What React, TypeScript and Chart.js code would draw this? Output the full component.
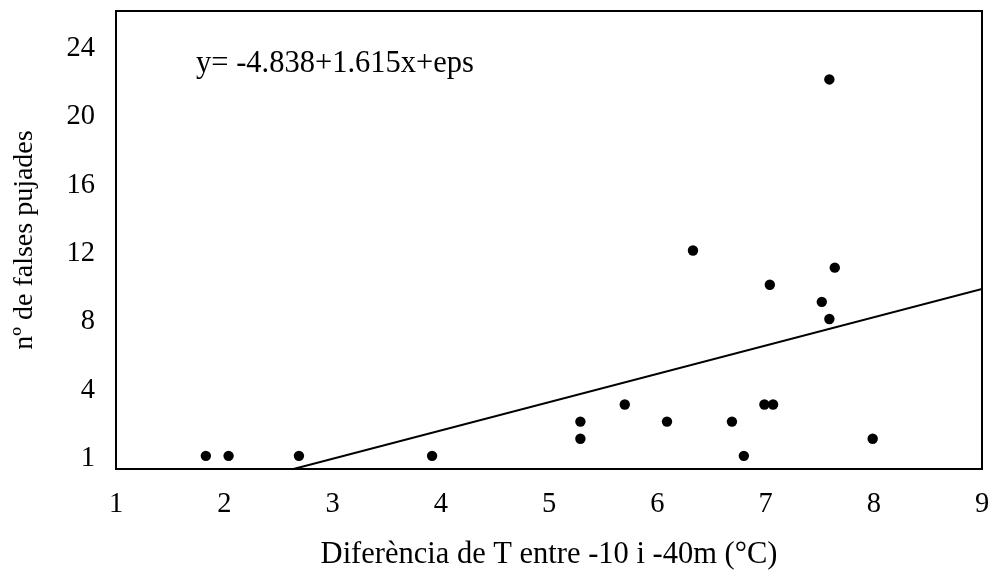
import React, { useEffect, useRef } from "react";
import { Chart, registerables } from "chart.js";

Chart.register(...registerables);

// Data
const xValues = [1.83, 2.04, 2.69, 3.92, 5.29, 5.29, 5.7, 6.09, 6.33, 6.69, 6.8, 6.99, 7.04, 7.07, 7.52, 7.59, 7.59, 7.64, 7.99];
const yValues = [0, 0, 0, 0, 1, 2, 3, 2, 12, 2, 0, 3, 10, 3, 9, 8, 22, 11, 1];

// Fitted line end points (as drawn)
const fitX = [2.64, 9];
const fitY = [-0.77, 9.76];

const yTickValues = [0, 4, 8, 12, 16, 20, 24];
const yTickLabels = ["1", "4", "8", "12", "16", "20", "24"];
const xTickValues = [1, 2, 3, 4, 5, 6, 7, 8, 9];

const equationText = "y= -4.838+1.615x+eps";
const equationAt = { x: 1.74, y: 22.43 };

const xTitle = "Diferència de T entre -10 i -40m (°C)";
const yTitle = "nº de falses pujades";

const FONT_FAMILY = '"Liberation Serif", "Times New Roman", Times, serif';

export default function App() {
  const canvasRef = useRef<HTMLCanvasElement | null>(null);

  useEffect(() => {
    if (!canvasRef.current) return;

    const framePlugin = {
      id: "frameAndText",
      afterDraw(chart: any) {
        const { ctx, chartArea, scales } = chart;
        ctx.save();
        ctx.strokeStyle = "#000";
        ctx.lineWidth = 2;
        ctx.strokeRect(chartArea.left, chartArea.top, chartArea.right - chartArea.left, chartArea.bottom - chartArea.top);
        ctx.fillStyle = "#000";
        ctx.font = `30.5px ${FONT_FAMILY}`;
        ctx.textAlign = "left";
        ctx.textBaseline = "alphabetic";
        ctx.fillText(
          equationText,
          scales.x.getPixelForValue(equationAt.x),
          scales.y.getPixelForValue(equationAt.y)
        );
        ctx.restore();
      },
    };

    const zeroPadding = (scale: any) => {
      scale.paddingTop = 0;
      scale.paddingBottom = 0;
      scale.paddingLeft = 0;
      scale.paddingRight = 0;
    };

    const chart = new Chart(canvasRef.current, {
      type: "scatter",
      data: {
        datasets: [
          {
            type: "scatter",
            data: xValues.map((x, i) => ({ x, y: yValues[i] })),
            backgroundColor: "#000",
            borderColor: "#000",
            pointRadius: 5.2,
            pointBorderWidth: 0,
          },
          {
            type: "line",
            data: fitX.map((x, i) => ({ x, y: fitY[i] })),
            borderColor: "#000",
            borderWidth: 2,
            pointRadius: 0,
            fill: false,
            tension: 0,
          } as any,
        ],
      },
      options: {
        responsive: false,
        animation: false,
        events: [],
        layout: { padding: { top: 11, right: 7, left: 0, bottom: 0 } },
        plugins: {
          legend: { display: false },
          tooltip: { enabled: false },
        },
        scales: {
          x: {
            type: "linear",
            min: 1,
            max: 9,
            grid: { display: false, drawTicks: false },
            border: { display: false },
            afterBuildTicks: (scale: any) => {
              scale.ticks = xTickValues.map((v) => ({ value: v }));
            },
            afterFit: (scale: any) => {
              scale.height = 101;
              zeroPadding(scale);
            },
            ticks: {
              color: "#000",
              padding: 18,
              maxRotation: 0,
              font: { family: FONT_FAMILY, size: 28.5 },
              callback: (v: any) => String(v),
            },
            title: {
              display: true,
              text: xTitle,
              color: "#000",
              padding: { top: 0, bottom: -3 },
              font: { family: FONT_FAMILY, size: 30.5 },
            },
          },
          y: {
            type: "linear",
            min: -0.77,
            max: 26,
            grid: { display: false, drawTicks: false },
            border: { display: false },
            afterBuildTicks: (scale: any) => {
              scale.ticks = yTickValues.map((v) => ({ value: v }));
            },
            afterFit: (scale: any) => {
              scale.width = 116;
              zeroPadding(scale);
            },
            ticks: {
              color: "#000",
              padding: 21,
              labelOffset: 3,
              font: { family: FONT_FAMILY, size: 28.5 },
              callback: (v: any) => {
                const idx = yTickValues.indexOf(Number(v));
                return idx >= 0 ? yTickLabels[idx] : "";
              },
            },
            title: {
              display: true,
              text: yTitle,
              color: "#000",
              padding: { top: 8, bottom: 0 },
              font: { family: FONT_FAMILY, size: 28 },
            },
          },
        },
      },
      plugins: [framePlugin],
    } as any);

    return () => chart.destroy();
  }, []);

  return (
    <div style={{ position: "absolute", left: 0, top: 0, width: 989, height: 570, background: "#fff" }}>
      <canvas ref={canvasRef} width={989} height={570} style={{ display: "block" }} />
    </div>
  );
}
